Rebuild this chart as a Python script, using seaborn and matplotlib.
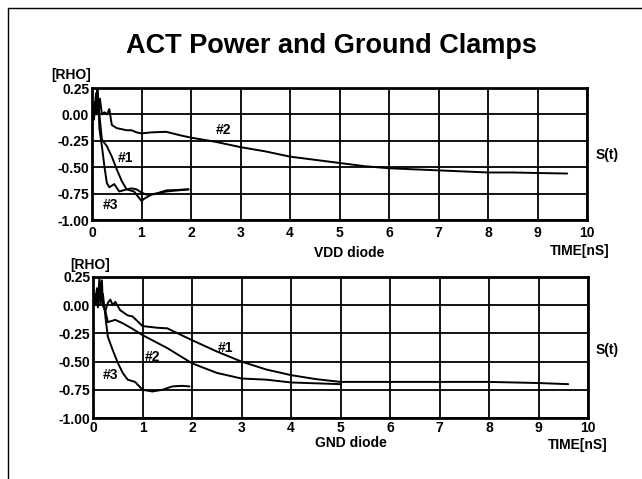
import matplotlib
matplotlib.use("Agg")
import matplotlib.pyplot as plt
from matplotlib.lines import Line2D
import seaborn as sns
import pandas as pd

# ---------------- data ----------------
x_ticks = [0, 1, 2, 3, 4, 5, 6, 7, 8, 9, 10]
y_ticks = [0.25, 0.00, -0.25, -0.50, -0.75, -1.00]
y_tick_labels = ["0.25", "0.00", "-0.25", "-0.50", "-0.75", "-1.00"]

# VDD diode
vdd_t1 = [0, 0.04, 0.08, 0.11, 0.14, 0.17, 0.2, 0.3, 0.4, 0.5, 0.6, 0.7, 0.8, 0.9, 1.0, 1.1, 1.3, 1.5, 1.95]
vdd_v1 = [0.05, 0.1, 0.0, 0.2, 0.05, -0.1, -0.24, -0.30, -0.40, -0.52, -0.63, -0.71, -0.70, -0.71, -0.74, -0.76, -0.75, -0.72, -0.71]
vdd_t2 = [0, 0.03, 0.06, 0.09, 0.11, 0.13, 0.16, 0.2, 0.25, 0.3, 0.35, 0.4, 0.5, 0.6, 0.7, 0.8, 0.9, 1.0, 1.2,
          1.5, 1.8, 2.0, 2.5, 3.0, 3.5, 4.0, 4.5, 5.0, 5.5, 6.0, 6.5, 7.0, 7.5, 8.0, 8.5, 9.0, 9.6]
vdd_v2 = [0.05, 0.0, 0.12, 0.03, 0.25, 0.05, 0.15, 0.0, 0.02, 0.0, 0.05, -0.1, -0.13, -0.14, -0.15, -0.15, -0.17,
          -0.18, -0.17, -0.165, -0.2, -0.22, -0.26, -0.31, -0.35, -0.40, -0.43, -0.46, -0.49, -0.51, -0.52, -0.53,
          -0.54, -0.55, -0.55, -0.555, -0.56]
vdd_t3 = [0, 0.04, 0.08, 0.1, 0.13, 0.15, 0.2, 0.25, 0.3, 0.35, 0.45, 0.55, 0.7, 0.85, 0.95, 1.0, 1.05, 1.2, 1.5, 1.95]
vdd_v3 = [0.05, -0.05, 0.2, 0.0, 0.1, -0.14, -0.30, -0.49, -0.65, -0.69, -0.66, -0.73, -0.71, -0.73, -0.79, -0.82,
          -0.8, -0.76, -0.73, -0.71]

# GND diode
gnd_t1 = [0, 0.05, 0.08, 0.1, 0.13, 0.15, 0.18, 0.2, 0.25, 0.3, 0.35, 0.4, 0.45, 0.55, 0.7, 0.8, 1.0, 1.3, 1.5,
          2.0, 2.5, 3.0, 3.5, 4.0, 4.5, 5.0, 6.0, 7.0, 8.0, 9.0, 9.6]
gnd_v1 = [0.03, 0.05, 0.15, 0.02, 0.25, 0.0, 0.22, 0.0, -0.05, 0.02, 0.05, 0.0, 0.03, -0.045, -0.09, -0.1, -0.185,
          -0.2, -0.205, -0.31, -0.41, -0.5, -0.57, -0.62, -0.655, -0.68, -0.68, -0.68, -0.68, -0.69, -0.70]
gnd_t2 = [0, 0.05, 0.1, 0.15, 0.2, 0.25, 0.3, 0.45, 0.6, 0.8, 1.0, 1.5, 2.0, 2.5, 3.0, 3.5, 4.0, 5.0]
gnd_v2 = [0.03, 0.1, -0.02, 0.2, 0.0, -0.05, -0.15, -0.13, -0.16, -0.21, -0.265, -0.38, -0.515, -0.6, -0.65, -0.66,
          -0.685, -0.70]
gnd_t3 = [0, 0.05, 0.1, 0.15, 0.2, 0.25, 0.3, 0.4, 0.5, 0.6, 0.7, 0.85, 1.0, 1.2, 1.4, 1.6, 1.8, 1.95]
gnd_v3 = [0.03, 0.0, 0.15, 0.05, 0.1, -0.1, -0.28, -0.40, -0.51, -0.6, -0.66, -0.68, -0.75, -0.765, -0.75, -0.72,
          -0.715, -0.72]

vdd_labels = {"#1": (0.68, -0.41), "#2": (2.65, -0.15), "#3": (0.38, -0.86)}
gnd_labels = {"#1": (2.68, -0.38), "#2": (1.2, -0.46), "#3": (0.35, -0.62)}


def make_df(series):
    rows = []
    for name, (ts, vs) in series.items():
        for t, v in zip(ts, vs):
            rows.append({"t": t, "v": v, "curve": name})
    return pd.DataFrame(rows)


vdd_df = make_df({"#1": (vdd_t1, vdd_v1), "#2": (vdd_t2, vdd_v2), "#3": (vdd_t3, vdd_v3)})
gnd_df = make_df({"#1": (gnd_t1, gnd_v1), "#2": (gnd_t2, gnd_v2), "#3": (gnd_t3, gnd_v3)})

# ---------------- style ----------------
sns.set_theme(style="white")
plt.rcParams["font.family"] = ["Liberation Sans", "DejaVu Sans"]
plt.rcParams["font.weight"] = "bold"

W, H = 642, 479
fig = plt.figure(figsize=(W / 100, H / 100), dpi=100)
fig.patch.set_facecolor("white")


def px_axes(left, top, right, bottom):
    return fig.add_axes([left / W, 1 - bottom / H, (right - left) / W, (bottom - top) / H])


ax_top = px_axes(92, 88, 587, 220)
ax_bot = px_axes(93, 277, 588, 418)

palette = {"#1": "black", "#2": "black", "#3": "black"}

for ax, df, labels, pad in [(ax_top, vdd_df, vdd_labels, 4), (ax_bot, gnd_df, gnd_labels, 2)]:
    sns.lineplot(data=df, x="t", y="v", hue="curve", palette=palette, estimator=None, sort=False,
                 linewidth=1.4, legend=False, ax=ax, zorder=3)
    ax.set_xlim(0, 10)
    ax.set_ylim(-1.0, 0.25)
    ax.set_xticks(x_ticks)
    ax.set_xticklabels([str(t) for t in x_ticks])
    ax.set_yticks(y_ticks)
    ax.set_yticklabels(y_tick_labels)
    ax.grid(True, color="black", linewidth=1.3)
    ax.tick_params(axis="both", length=0, labelsize=10, colors="black")
    ax.tick_params(axis="x", pad=pad)
    ax.tick_params(axis="y", pad=2)
    for lab in ax.get_xticklabels() + ax.get_yticklabels():
        lab.set_fontweight("bold")
    for sp in ax.spines.values():
        sp.set_color("black")
        sp.set_linewidth(2.0)
        sp.set_visible(True)
    ax.set_xlabel("")
    ax.set_ylabel("")
    for txt, (x, y) in labels.items():
        ax.text(x, y, txt, fontsize=10, fontweight="bold", ha="center", va="center", color="black", zorder=4)

# ---------------- text ----------------
def ptext(x, y, s, size=10, ha="center"):
    fig.text(x / W, 1 - y / H, s, fontsize=size, fontweight="bold", ha=ha, va="center", color="black")


ptext(331, 46, "ACT Power and Ground Clamps", size=19.5)
ptext(71, 75, "[RHO]")
ptext(90, 265, "[RHO]")
ptext(607, 155, "S(t)")
ptext(607, 350, "S(t)")
ptext(349, 253, "VDD diode")
ptext(580, 251, "TIME[nS]")
ptext(351, 443, "GND diode")
ptext(578, 445, "TIME[nS]")

# page frame
fig.add_artist(Line2D([8 / W, 8 / W], [0, 1 - 8 / H], transform=fig.transFigure, color="black", linewidth=1.0))
fig.add_artist(Line2D([8 / W, 1], [1 - 8 / H, 1 - 8 / H], transform=fig.transFigure, color="black", linewidth=1.0))

fig.savefig("out.png", dpi=100, facecolor="white")
